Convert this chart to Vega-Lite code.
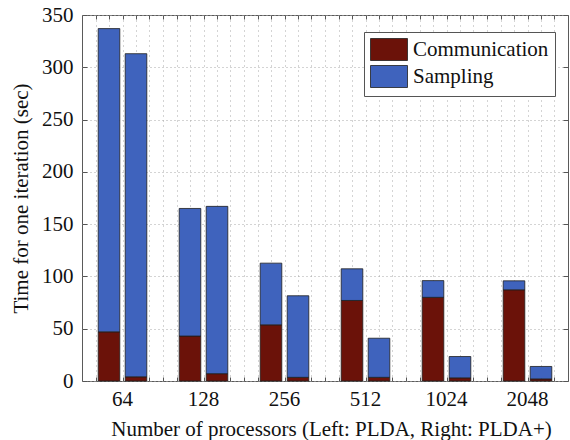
{
  "$schema": "https://vega.github.io/schema/vega-lite/v6.json",
  "width": 486,
  "height": 366,
  "autosize": {"type": "none"},
  "padding": {"left": 82, "top": 15, "right": 2, "bottom": 59},
  "background": "white",
  "config": {
    "font": "Liberation Serif",
    "view": {"stroke": "#5a5a5a", "strokeWidth": 1}
  },
  "data": {
    "values": [
      {"processors": 64, "algorithm": "PLDA", "part": "Communication", "time": 47},
      {"processors": 64, "algorithm": "PLDA", "part": "Sampling", "time": 290},
      {"processors": 64, "algorithm": "PLDA+", "part": "Communication", "time": 4},
      {"processors": 64, "algorithm": "PLDA+", "part": "Sampling", "time": 309},
      {"processors": 128, "algorithm": "PLDA", "part": "Communication", "time": 43},
      {"processors": 128, "algorithm": "PLDA", "part": "Sampling", "time": 122},
      {"processors": 128, "algorithm": "PLDA+", "part": "Communication", "time": 7},
      {"processors": 128, "algorithm": "PLDA+", "part": "Sampling", "time": 160},
      {"processors": 256, "algorithm": "PLDA", "part": "Communication", "time": 53.7},
      {"processors": 256, "algorithm": "PLDA", "part": "Sampling", "time": 59},
      {"processors": 256, "algorithm": "PLDA+", "part": "Communication", "time": 3.5},
      {"processors": 256, "algorithm": "PLDA+", "part": "Sampling", "time": 78},
      {"processors": 512, "algorithm": "PLDA", "part": "Communication", "time": 77},
      {"processors": 512, "algorithm": "PLDA", "part": "Sampling", "time": 30.3},
      {"processors": 512, "algorithm": "PLDA+", "part": "Communication", "time": 3.5},
      {"processors": 512, "algorithm": "PLDA+", "part": "Sampling", "time": 37.4},
      {"processors": 1024, "algorithm": "PLDA", "part": "Communication", "time": 80},
      {"processors": 1024, "algorithm": "PLDA", "part": "Sampling", "time": 16},
      {"processors": 1024, "algorithm": "PLDA+", "part": "Communication", "time": 3},
      {"processors": 1024, "algorithm": "PLDA+", "part": "Sampling", "time": 20.4},
      {"processors": 2048, "algorithm": "PLDA", "part": "Communication", "time": 87.2},
      {"processors": 2048, "algorithm": "PLDA", "part": "Sampling", "time": 8.6},
      {"processors": 2048, "algorithm": "PLDA+", "part": "Communication", "time": 2},
      {"processors": 2048, "algorithm": "PLDA+", "part": "Sampling", "time": 11.9}
    ]
  },
  "layer": [
    {
      "mark": {"type": "point", "opacity": 0},
      "encoding": {
        "x": {
          "datum": 1,
          "type": "quantitative",
          "scale": {"domain": [0.5, 6.5], "nice": false, "zero": false},
          "axis": {
            "orient": "bottom",
            "title": null,
            "labels": false,
            "domain": false,
            "values": [0.6667, 0.8333, 1, 1.1667, 1.3333, 1.5, 1.6667, 1.8333, 2, 2.1667, 2.3333, 2.5, 2.6667, 2.8333, 3, 3.1667, 3.3333, 3.5, 3.6667, 3.8333, 4, 4.1667, 4.3333, 4.5, 4.6667, 4.8333, 5, 5.1667, 5.3333, 5.5, 5.6667, 5.8333, 6, 6.1667, 6.3333],
            "ticks": true,
            "tickSize": -4,
            "tickColor": "#555",
            "grid": true,
            "gridColor": "#a8a8a8",
            "gridDash": [1, 4],
            "gridWidth": 1
          }
        },
        "y": {
          "datum": 0,
          "type": "quantitative",
          "scale": {"domain": [0, 350], "nice": false},
          "axis": {
            "orient": "right",
            "title": null,
            "labels": false,
            "domain": false,
            "grid": false,
            "values": [0, 50, 100, 150, 200, 250, 300, 350],
            "tickSize": -5,
            "tickColor": "#555"
          }
        }
      }
    },
    {
      "mark": {"type": "bar", "stroke": "#1e1e1e", "strokeWidth": 0.8},
      "encoding": {
        "x": {
          "field": "processors",
          "type": "ordinal",
          "sort": [64, 128, 256, 512, 1024, 2048],
          "scale": {"paddingInner": 0.4, "paddingOuter": 0.2},
          "axis": {
            "orient": "bottom",
            "title": "Number of processors (Left: PLDA, Right: PLDA+)",
            "titleFontSize": 21,
            "titleFontWeight": "normal",
            "titleColor": "#111",
            "titlePadding": 9,
            "titleX": 249,
            "labelAngle": 0,
            "labelFontSize": 21,
            "labelColor": "#111",
            "labelPadding": 7,
            "ticks": false,
            "domain": false,
            "grid": false
          }
        },
        "xOffset": {
          "field": "algorithm",
          "type": "nominal",
          "sort": ["PLDA", "PLDA+"],
          "scale": {"paddingInner": 0.2, "paddingOuter": 0}
        },
        "y": {
          "field": "time",
          "type": "quantitative",
          "stack": "zero",
          "scale": {"domain": [0, 350], "nice": false},
          "axis": {
            "orient": "left",
            "title": "Time for one iteration (sec)",
            "titleFontSize": 21,
            "titleFontWeight": "normal",
            "titleColor": "#111",
            "titlePadding": 10,
            "labelFontSize": 21,
            "labelColor": "#111",
            "labelPadding": 14,
            "values": [0, 50, 100, 150, 200, 250, 300, 350],
            "tickSize": -5,
            "tickColor": "#555",
            "domain": false,
            "grid": true,
            "gridColor": "#a8a8a8",
            "gridDash": [1, 3],
            "gridWidth": 1
          }
        },
        "color": {
          "field": "part",
          "type": "nominal",
          "scale": {"domain": ["Communication", "Sampling"], "range": ["#6b1209", "#3f63bd"]},
          "legend": {
            "orient": "none",
            "legendX": 282,
            "legendY": 17,
            "title": null,
            "symbolType": "M-1,-1H2.364V1H-1Z",
            "symbolSize": 484,
            "symbolStrokeColor": "#1e1e1e",
            "symbolStrokeWidth": 0.8,
            "symbolOpacity": 1,
            "labelFontSize": 21,
            "labelFont": "Liberation Serif",
            "labelColor": "#111",
            "labelOffset": 20,
            "rowPadding": 0,
            "padding": 6,
            "strokeColor": "#555",
            "fillColor": "white"
          }
        },
        "order": {"field": "part", "sort": "ascending"}
      }
    },
    {
      "mark": {"type": "point", "opacity": 0},
      "encoding": {
        "x": {
          "datum": 1,
          "type": "quantitative",
          "scale": {"domain": [0.5, 6.5], "nice": false, "zero": false},
          "axis": {
            "orient": "top",
            "title": null,
            "labels": false,
            "domain": false,
            "grid": false,
            "values": [0.6667, 0.8333, 1, 1.1667, 1.3333, 1.5, 1.6667, 1.8333, 2, 2.1667, 2.3333, 2.5, 2.6667, 2.8333, 3, 3.1667, 3.3333, 3.5, 3.6667, 3.8333, 4, 4.1667, 4.3333, 4.5, 4.6667, 4.8333, 5, 5.1667, 5.3333, 5.5, 5.6667, 5.8333, 6, 6.1667, 6.3333],
            "tickSize": -4,
            "tickColor": "#555"
          }
        }
      }
    }
  ],
  "resolve": {
    "scale": {"x": "independent", "y": "independent", "xOffset": "independent"},
    "axis": {"x": "independent", "y": "independent"}
  }
}
